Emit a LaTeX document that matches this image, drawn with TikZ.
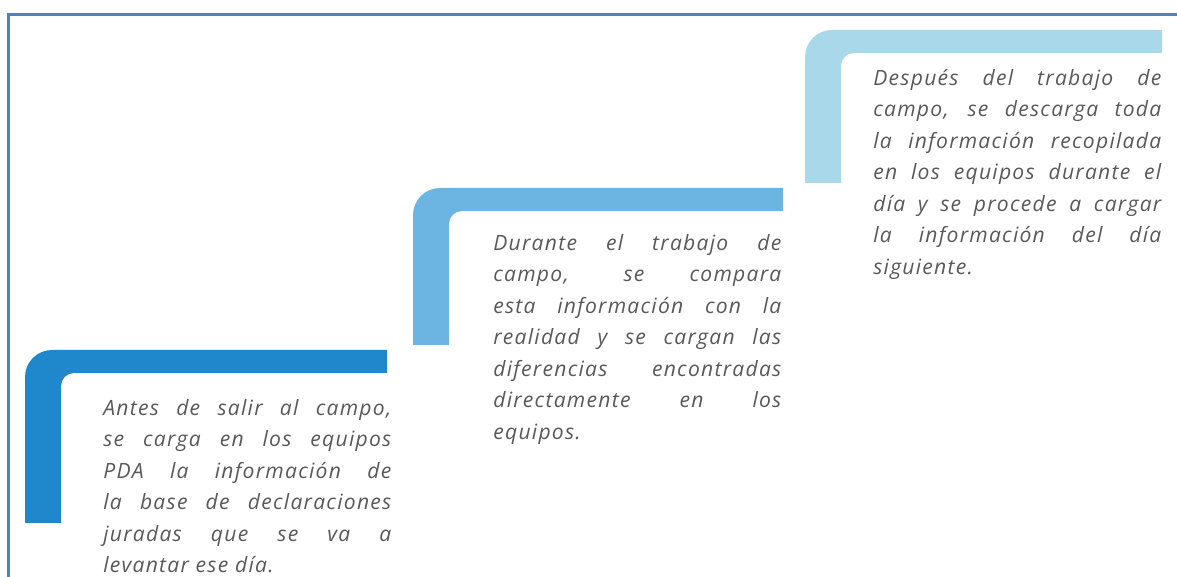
\documentclass[tikz,border=0pt]{standalone}
\usepackage{fontspec}
\setmainfont{Open Sans}[LetterSpace=6]

\definecolor{framecol}{RGB}{79,129,189}
\definecolor{stepdark}{RGB}{31,135,203}
\definecolor{stepmid}{RGB}{108,181,227}
\definecolor{steplight}{RGB}{169,216,235}
\definecolor{textgrey}{RGB}{89,89,89}

\def \barwidth {0.72}
\def \barthick {0.46}
\def \outerradius {0.54}
\def \innerradius {0.26}

\tikzset{
  steptext/.style={anchor=north west, inner sep=0pt, text width=5.76cm, align=justify,
    text=textgrey, font=\fontsize{12}{17.9}\selectfont\itshape}
}

\begin{document}
\begin{tikzpicture}
\useasboundingbox (0,0) rectangle (23.54,11.54);
\draw[framecol, line width=1.4pt] (0.17,0) -- (0.17,11.25) -- (23.54,11.25);
% first step
\fill[stepdark] (0.50,1.08) -- (0.50,4.54-\outerradius) arc (180:90:\outerradius) -- (7.74,4.54) -- (7.74,4.54-\barthick)
  -- (0.50+\barwidth+\innerradius,4.54-\barthick) arc (90:180:\innerradius) -- (0.50+\barwidth,1.08) -- cycle;
\node[steptext] (antes) at (2.06,3.56) {Antes de salir al campo,\linebreak se carga en los equipos\linebreak PDA la información de\linebreak la base de declaraciones\linebreak juradas que se va a\linebreak levantar ese día.};
% second step
\fill[stepmid] (8.26,4.64) -- (8.26,7.78-\outerradius) arc (180:90:\outerradius) -- (15.66,7.78) -- (15.66,7.78-\barthick)
  -- (8.26+\barwidth+\innerradius,7.78-\barthick) arc (90:180:\innerradius) -- (8.26+\barwidth,4.64) -- cycle;
\node[steptext] (durante) at (9.86,6.86) {Durante el trabajo de\linebreak campo, se compara\linebreak esta información con la\linebreak realidad y se cargan las\linebreak diferencias encontradas\linebreak directamente en los\linebreak equipos.};
% third step
\fill[steplight] (16.10,7.88) -- (16.10,10.94-\outerradius) arc (180:90:\outerradius) -- (23.24,10.94) -- (23.24,10.94-\barthick)
  -- (16.10+\barwidth+\innerradius,10.94-\barthick) arc (90:180:\innerradius) -- (16.10+\barwidth,7.88) -- cycle;
\node[steptext] (despues) at (17.46,10.16) {Después del trabajo de\linebreak campo, se descarga toda\linebreak la información recopilada\linebreak en los equipos durante el\linebreak día y se procede a cargar\linebreak la información del día\linebreak siguiente.};
\end{tikzpicture}
\end{document}
